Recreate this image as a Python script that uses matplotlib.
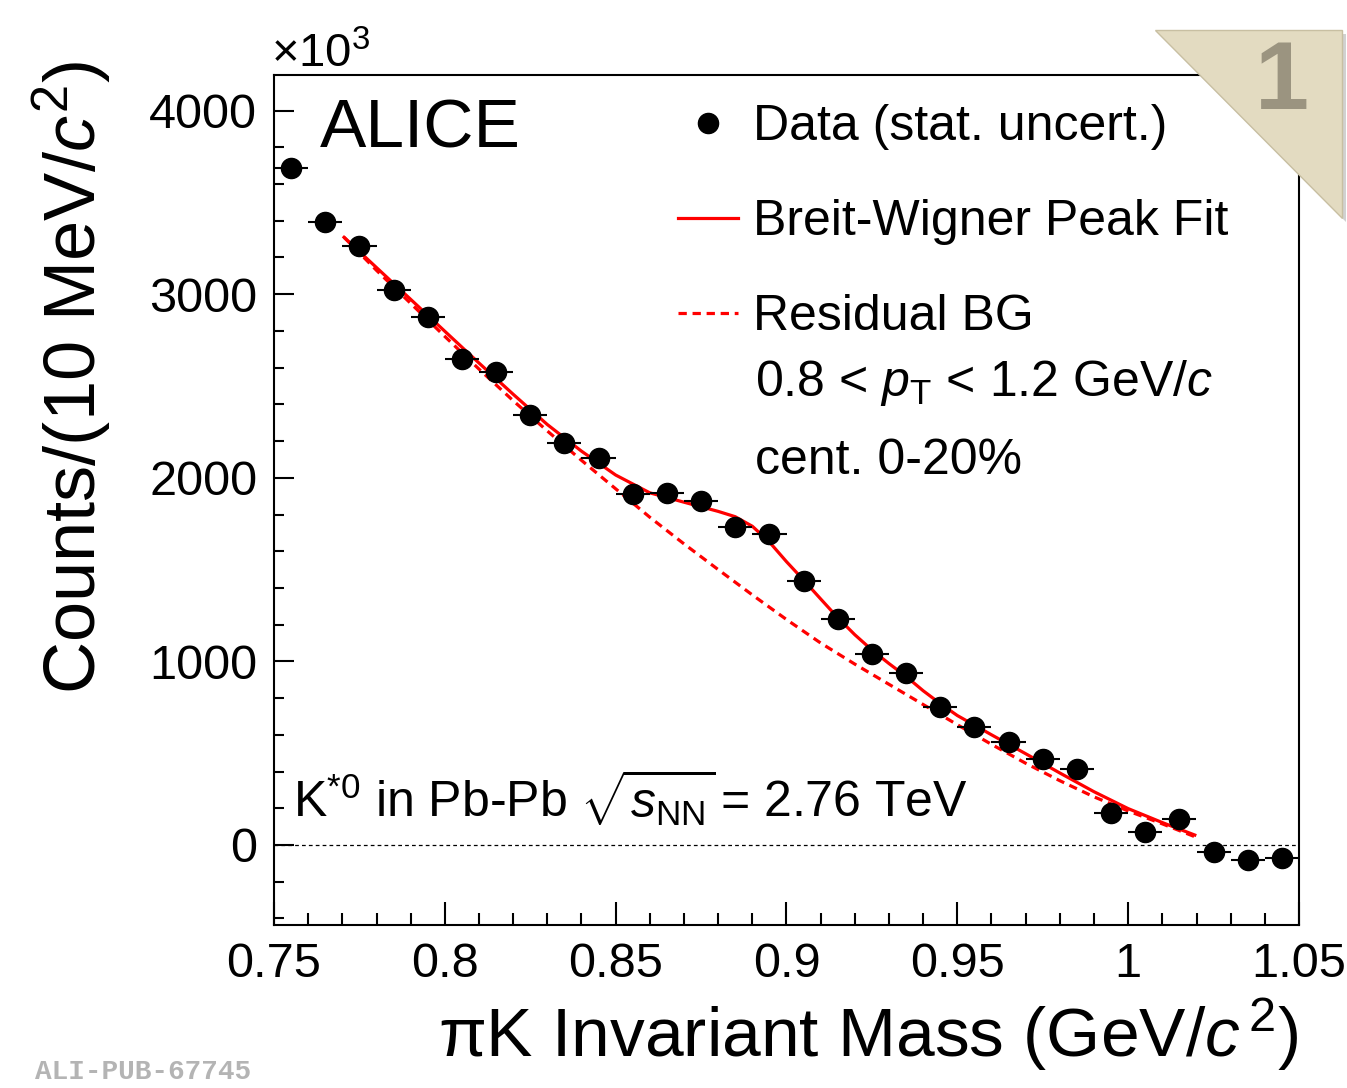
import numpy as np
import matplotlib
matplotlib.use('Agg')
import matplotlib.pyplot as plt
from matplotlib.ticker import MultipleLocator, FuncFormatter
from matplotlib.lines import Line2D
from matplotlib.patches import Polygon

plt.rcParams['font.family'] = ['Liberation Sans', 'DejaVu Sans']
plt.rcParams['mathtext.fontset'] = 'custom'
plt.rcParams['mathtext.rm'] = 'Liberation Sans'
plt.rcParams['mathtext.it'] = 'Liberation Sans:italic'
plt.rcParams['mathtext.bf'] = 'Liberation Sans:bold'

# invariant mass bin centres (GeV/c^2) and counts
mass = [0.755, 0.765, 0.775, 0.785, 0.795, 0.805, 0.815, 0.825, 0.835, 0.845,
        0.855, 0.865, 0.875, 0.885, 0.895, 0.905, 0.915, 0.925, 0.935, 0.945,
        0.955, 0.965, 0.975, 0.985, 0.995, 1.005, 1.015, 1.025, 1.035, 1.045]
counts = [3686, 3395, 3262, 3023, 2877, 2645, 2578, 2342, 2188, 2106,
          1912, 1915, 1875, 1734, 1694, 1437, 1231, 1040, 938, 750,
          642, 563, 467, 414, 176, 69, 140, -36, -82, -72]
bin_half = 0.005

# Breit-Wigner peak fit
fit_x = [0.7705, 0.78, 0.79, 0.80, 0.81, 0.82, 0.83, 0.84, 0.85, 0.86,
         0.87, 0.88, 0.885, 0.89, 0.895, 0.90, 0.905, 0.91, 0.915, 0.92,
         0.925, 0.93, 0.935, 0.94, 0.945, 0.95, 0.96, 0.97, 0.98, 0.99,
         1.00, 1.01, 1.0195]
fit_y = [3310, 3145, 2972, 2798, 2625, 2455, 2290, 2145, 2015, 1918,
         1867, 1817, 1788, 1736, 1650, 1543, 1443, 1340, 1238, 1145,
         1062, 988, 918, 840, 770, 705, 600, 497, 392, 290,
         198, 122, 54]

# residual background
bg_x = [0.7705, 0.78, 0.79, 0.80, 0.81, 0.82, 0.83, 0.84, 0.85, 0.86,
        0.87, 0.88, 0.89, 0.90, 0.91, 0.92, 0.93, 0.94, 0.95, 0.96,
        0.97, 0.98, 0.99, 1.00, 1.01, 1.0195]
bg_y = [3310, 3130, 2950, 2770, 2592, 2420, 2255, 2095, 1940, 1785,
        1640, 1500, 1362, 1228, 1100, 985, 875, 765, 655, 548,
        445, 350, 262, 185, 115, 45]

W, H = 1347, 1088


def fx(px):
    return px / W


def fy(py):
    return 1 - py / H


fig = plt.figure(figsize=(W / 100, H / 100), dpi=100, facecolor='white')
ax = fig.add_axes([fx(274), fy(925), (1299 - 274) / W, (925 - 75) / H])

ax.axhline(0, color='black', lw=0.9, ls=(0, (3, 2.5)), zorder=1)
ax.plot(bg_x, bg_y, color='#ff0000', lw=2.3, ls=(0, (2.6, 1.8)), zorder=2)
ax.plot(fit_x, fit_y, color='#ff0000', lw=2.3, zorder=3)
ax.errorbar(mass, counts, xerr=bin_half, fmt='o', color='black', ms=14.5,
            elinewidth=1.5, capsize=0, zorder=4)

ax.set_xlim(0.75, 1.05)
ax.set_ylim(-436, 4194)

ax.xaxis.set_major_locator(MultipleLocator(0.05))
ax.xaxis.set_minor_locator(MultipleLocator(0.01))
ax.yaxis.set_major_locator(MultipleLocator(1000))
ax.yaxis.set_minor_locator(MultipleLocator(200))
ax.xaxis.set_major_formatter(FuncFormatter(lambda v, p: '%g' % round(v, 3)))
ax.yaxis.set_major_formatter(FuncFormatter(lambda v, p: '%d' % round(v)))

ax.tick_params(axis='both', which='both', direction='in', top=False, right=False,
               labelsize=35, width=1.5)
ax.tick_params(axis='x', which='major', length=16.5, pad=12)
ax.tick_params(axis='x', which='minor', length=8.5)
ax.tick_params(axis='y', which='major', length=14.5, pad=12)
ax.tick_params(axis='y', which='minor', length=7)
for s in ax.spines.values():
    s.set_linewidth(1.5)

ax.set_xlabel(r'πK Invariant Mass (GeV/$c^{\,2}$)', fontsize=50, ha='right', va='center')
ax.xaxis.set_label_coords(1.0, -(1035 - 925) / 850)
ax.set_ylabel(r'Counts/(10 MeV/$c^{2}$)', fontsize=52, va='center')
ax.yaxis.set_label_coords(-(274 - 72) / 1025, (925 - 377) / 850)

fig.text(fx(271), fy(67), r'$\times10^{3}$', fontsize=34, ha='left', va='baseline')
fig.text(fx(320), fy(148), 'ALICE', fontsize=50, ha='left', va='baseline')

handles = [Line2D([], [], marker='o', color='black', ms=14.5, ls='none'),
           Line2D([], [], color='#ff0000', lw=2.3),
           Line2D([], [], color='#ff0000', lw=2.3, ls=(0, (2.6, 1.8)))]
labels = ['Data (stat. uncert.)', 'Breit-Wigner Peak Fit', 'Residual BG']
ax.legend(handles, labels, loc='upper left', bbox_to_anchor=(fx(678), fy(104)),
          bbox_transform=fig.transFigure, frameon=False, fontsize=36,
          handlelength=1.2, handletextpad=0.3, labelspacing=0.98,
          borderpad=0, borderaxespad=0)

fig.text(fx(755), fy(396), r'0.8 < $p_{\mathrm{T}}$ < 1.2 GeV/$c$', fontsize=36,
         ha='left', va='baseline')
fig.text(fx(755), fy(474), 'cent. 0-20%', fontsize=36, ha='left', va='baseline')
fig.text(fx(293), fy(818), r'K$^{*0}$ in Pb-Pb $\sqrt{s_{\mathrm{NN}}}\,$= 2.76 TeV',
         fontsize=36, ha='left', va='baseline')

# corner badge
shadow = Polygon([(fx(1159), fy(34)), (fx(1346), fy(34)), (fx(1346), fy(222))],
                 closed=True, transform=fig.transFigure, facecolor='#999999',
                 edgecolor='none', alpha=0.45, zorder=9)
badge = Polygon([(fx(1155), fy(30)), (fx(1342), fy(30)), (fx(1342), fy(218))],
                closed=True, transform=fig.transFigure, facecolor='#e3dbc1',
                edgecolor='#c8bfa2', lw=1, zorder=10)
fig.add_artist(shadow)
fig.add_artist(badge)
fig.text(fx(1282), fy(84), '1', fontsize=70, fontweight='bold', color='#9b9480',
         ha='center', va='center', zorder=11)

fig.text(fx(35), fy(1072), 'ALI-PUB-67745', fontsize=20, fontweight='bold',
         family='Liberation Mono', color='#b4b4b4', ha='left', va='center')

fig.savefig('out.png', dpi=100)
